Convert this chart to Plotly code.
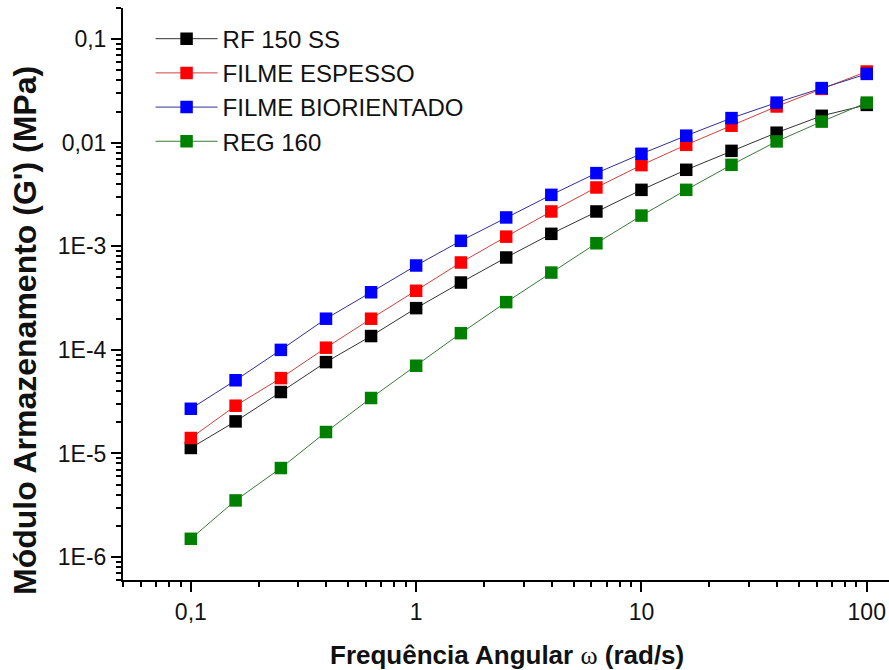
import numpy as np
import plotly.graph_objects as go

# Angular frequency (rad/s)
freq = [0.1, 0.158, 0.251, 0.398, 0.631, 1.0, 1.58, 2.51, 3.98, 6.31,
        10.0, 15.8, 25.1, 39.8, 63.1, 100.0]

rf150ss = [1.13e-5, 2.04e-5, 3.92e-5, 7.62e-5, 1.36e-4, 2.53e-4, 4.47e-4, 7.80e-4,
           1.32e-3, 2.17e-3, 3.51e-3, 5.48e-3, 8.35e-3, 1.25e-2, 1.82e-2, 2.32e-2]
filme_espesso = [1.41e-5, 2.89e-5, 5.34e-5, 1.05e-4, 2.00e-4, 3.72e-4, 6.98e-4, 1.24e-3,
                 2.17e-3, 3.70e-3, 6.08e-3, 9.55e-3, 1.46e-2, 2.24e-2, 3.31e-2, 4.87e-2]
filme_biorientado = [2.70e-5, 5.09e-5, 1.00e-4, 2.00e-4, 3.60e-4, 6.53e-4, 1.13e-3, 1.90e-3,
                     3.14e-3, 5.09e-3, 7.82e-3, 1.17e-2, 1.73e-2, 2.44e-2, 3.37e-2, 4.62e-2]
reg160 = [1.50e-6, 3.52e-6, 7.23e-6, 1.61e-5, 3.43e-5, 7.03e-5, 1.45e-4, 2.89e-4,
          5.58e-4, 1.07e-3, 1.98e-3, 3.51e-3, 6.12e-3, 1.03e-2, 1.60e-2, 2.44e-2]

series_names = ["RF 150 SS", "FILME ESPESSO", "FILME BIORIENTADO", "REG 160"]
series_values = [rf150ss, filme_espesso, filme_biorientado, reg160]
marker_colors = ["#000000", "#ff0000", "#0000ff", "#008000"]
line_colors = ["#333333", "#d04040", "#303090", "#3a7a3a"]

x_tickvals = [0.1, 1, 10, 100]
x_ticktext = ["0,1", "1", "10", "100"]
y_tickvals = [1e-6, 1e-5, 1e-4, 1e-3, 1e-2, 1e-1]
y_ticktext = ["1E-6", "1E-5", "1E-4", "1E-3", "0,01", "0,1"]

x_title = ("Frequência Angular <span style='font-family:Liberation Serif, Times New Roman, serif;"
           "font-weight:normal'>ω</span> (rad/s)")
y_title = "Módulo Armazenamento (G') (MPa)"

x_minor = [m * 10.0 ** e for e in range(-2, 3) for m in range(2, 10)]
y_minor = [m * 10.0 ** e for e in range(-7, 0) for m in range(2, 10)]

fig = go.Figure()
for name, vals, mc, lc in zip(series_names, series_values, marker_colors, line_colors):
    fig.add_trace(go.Scatter(
        x=freq, y=vals, name=name, mode="lines+markers",
        line=dict(color=lc, width=1),
        marker=dict(symbol="square", size=12.5, color=mc, line=dict(width=0)),
    ))

sans = "Liberation Sans, Arial, sans-serif"
tickfont = dict(family=sans, size=23, color="#111111")
fig.update_layout(
    width=889, height=670,
    margin=dict(l=123, r=0, t=8, b=90),
    paper_bgcolor="white", plot_bgcolor="white",
    showlegend=True,
    legend=dict(
        x=0.036, y=0.985, xanchor="left", yanchor="top",
        bgcolor="rgba(0,0,0,0)",
        font=dict(family=sans, size=24, color="#111111"),
        itemwidth=62, tracegroupgap=0,
    ),
    xaxis=dict(
        type="log", range=[np.log10(0.05), np.log10(125.5)],
        showgrid=False, zeroline=False,
        showline=True, linecolor="black", linewidth=2,
        ticks="outside", ticklen=10, tickwidth=1.5, tickcolor="black",
        tickmode="array", tickvals=x_tickvals, ticktext=x_ticktext,
        tickfont=tickfont,
        minor=dict(tickmode="array", tickvals=x_minor, ticks="outside",
                   ticklen=5, tickwidth=1.5, tickcolor="black", showgrid=False),
    ),
    yaxis=dict(
        type="log", range=[np.log10(6e-7), np.log10(0.2)],
        showgrid=False, zeroline=False,
        showline=True, linecolor="black", linewidth=2,
        ticks="outside", ticklen=10, tickwidth=1.5, tickcolor="black",
        tickmode="array", tickvals=y_tickvals, ticktext=y_ticktext,
        tickfont=tickfont,
        minor=dict(tickmode="array", tickvals=y_minor, ticks="outside",
                   ticklen=5, tickwidth=1.5, tickcolor="black", showgrid=False),
    ),
    annotations=[
        dict(text=x_title, xref="paper", yref="paper", x=0.501, y=-0.131,
             xanchor="center", yanchor="middle", showarrow=False,
             font=dict(family=sans, size=26, color="#111111", weight="bold")),
        dict(text=y_title, xref="paper", yref="paper", x=-0.128, y=0.437,
             xanchor="center", yanchor="middle", showarrow=False, textangle=-90,
             font=dict(family=sans, size=32, color="#111111", weight="bold")),
    ],
)

fig.write_html("out.html")
